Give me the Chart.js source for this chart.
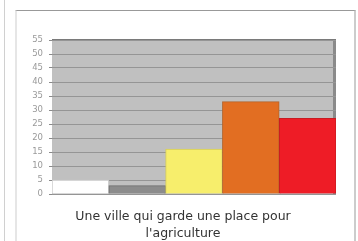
<!DOCTYPE html>
<html>
<head>
<meta charset="utf-8">
<script src="https://cdn.jsdelivr.net/npm/chart.js@4.4.0/dist/chart.umd.min.js"></script>
<style>
body{margin:0;background:#fff;width:358px;height:241px;overflow:hidden;position:relative;}
#strip{position:absolute;left:4px;top:0;width:1px;height:241px;background:#d0d0d0;}
#box{position:absolute;left:15px;top:10px;width:337px;height:231px;border-top:1px solid #999;border-left:2px solid #e6e6e6;border-right:2px solid #cccccc;}
#wrap{position:absolute;left:0;top:0;width:337px;height:231px;}
</style>
</head>
<body>
<div id="strip"></div>
<div id="box"><div id="wrap"><canvas id="myChart"></canvas></div></div>
<script>
'use strict';
// categories and values
const categories=['1','2','3','4','5'];
const values=[5,3,16,33,27];
const barColors=['#ffffff','#8c8c8c','#f7ee6c','#e26e22','#ee1c26'];
const barBorders=['#c8c8c8','#6e6e6e','#d4cc5a','#b4642c','#c81c22'];
const yTicks=[0,5,10,15,20,25,30,35,40,45,50,55];
const titleLines=['Une ville qui garde une place pour',"l'agriculture"];

// grey plot background like the old office chart
const plotBg={
    id:'plotBg',
    beforeDraw(chart){
        const a=chart.chartArea;
        const c=chart.ctx;
        c.save();
        c.fillStyle='#c0c0c0';
        c.fillRect(a.left,a.top,a.right-a.left,a.bottom-a.top);
        c.fillStyle='#8a8a8a';
        c.fillRect(a.right-3,a.top,3,a.bottom-a.top);
        c.fillStyle='#7a7a7a';
        c.fillRect(a.left,a.top-1,a.right-a.left,1);
        c.restore();
    }
};

const ctx=document.getElementById('myChart').getContext('2d');
const myChart=new Chart(ctx,{
    type:'bar',
    data:{
        labels:categories,
        datasets:[{
            data:values,
            backgroundColor:barColors,
            borderColor:barBorders,
            borderWidth:1,
            categoryPercentage:1,
            barPercentage:1
        }]
    },
    options:{
        responsive:true,
        maintainAspectRatio:false,
        animation:false,
        layout:{padding:{left:0,right:5,top:29,bottom:0}},
        plugins:{
            legend:{display:false},
            tooltip:{enabled:false},
            title:{
                display:true,
                position:'bottom',
                text:titleLines,
                color:'#333',
                font:{family:'DejaVu Sans',size:12.5,weight:'normal',lineHeight:1.36},
                padding:{top:6,bottom:0}
            }
        },
        scales:{
            x:{
                ticks:{display:false},
                grid:{display:false},
                border:{display:false}
            },
            y:{
                min:0,
                max:55,
                afterBuildTicks(scale){
                    scale.ticks=yTicks.map(v=>({value:v}));
                },
                afterFit(scale){
                    scale.width=35;
                },
                ticks:{
                    color:'#999',
                    font:{family:'DejaVu Sans',size:8.5},
                    padding:6
                },
                grid:{
                    color:'#959595',
                    tickLength:3,
                    tickColor:'#8a8a8a'
                },
                border:{display:false}
            },
            // empty right axis, only keeps the space on the right of the plot
            yRight:{
                position:'right',
                min:0,
                max:55,
                ticks:{display:false},
                grid:{display:false},
                border:{display:false},
                afterFit(scale){
                    scale.width=13;
                }
            }
        }
    },
    plugins:[plotBg]
});
</script>
</body>
</html>
